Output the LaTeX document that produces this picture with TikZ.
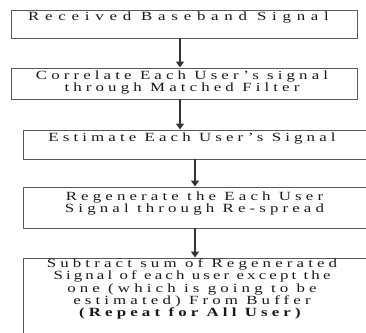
\documentclass[tikz,border=0pt]{standalone}
\usepackage{fontspec}
\setmainfont{Liberation Serif}[FakeStretch=1.35, LetterSpace=33]
\usetikzlibrary{arrows.meta}
\begin{document}
\begin{tikzpicture}[x=1bp, y=-1bp,
  box/.style={draw=black!65, line width=0.9bp, inner sep=0pt, outer sep=0pt, anchor=north west},
  txt/.style={inner sep=0pt, align=center, text=black!90, font=\fontsize{12.5bp}{10.7bp}\selectfont},
  flow/.style={draw=black!80, line width=1.8bp, -{Triangle[width=8bp,length=6bp]}, shorten >=0.5bp}]
\useasboundingbox (0,0) rectangle (366,333);
\fill[white] (0,0) rectangle (366,333);

% process boxes (the lower three run past the right and bottom edge)
\node[box, minimum width=346bp, minimum height=28bp] (b1) at (11,10) {};
\node[box, minimum width=346bp, minimum height=31bp] (b2) at (11,68) {};
\node[box, minimum width=350bp, minimum height=29bp] (b3) at (23,130) {};
\node[box, minimum width=350bp, minimum height=41bp] (b4) at (23,187) {};
\node[box, minimum width=350bp, minimum height=90bp] (b5) at (23,258) {};

% box texts
\node[txt, anchor=west] (t1) at (28,17.5) {\addfontfeatures{LetterSpace=46}Received Baseband Signal};
\node[txt] (t2) at (182,82.5) {Correlate Each User's signal\\through Matched Filter};
\node[txt] (t3) at (192,138.5) {Estimate Each User's Signal};
\node[txt] (t4) at (194.5,203.5) {Regenerate the Each User\\Signal through Re-spread};
\node[txt] (t5) at (192,289) {Subtract sum of Regenerated\\{\addfontfeatures{LetterSpace=25}Signal of each user except the}\\one (which is going to be\\estimated) From Buffer\\\textbf{(Repeat for All User)}};

% connector columns
\coordinate (c1) at (180,0);
\coordinate (c2) at (195,0);

\draw[flow] (b1.south -| c1) -- (b2.north -| c1);
\draw[flow] (b2.south -| c1) -- (b3.north -| c1);
\draw[flow] (b3.south -| c2) -- (b4.north -| c2);
\draw[flow] (b4.south -| c2) -- (b5.north -| c2);
\end{tikzpicture}
\end{document}
